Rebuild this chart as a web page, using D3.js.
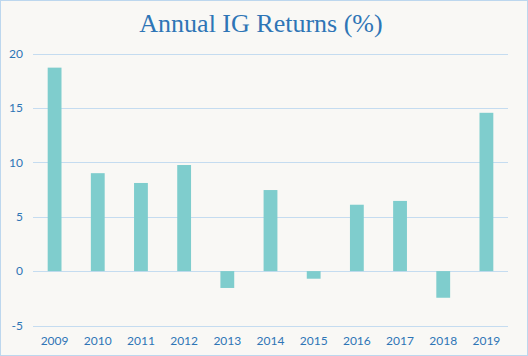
<!DOCTYPE html>
<html><head><meta charset="utf-8">
<script src="https://cdn.jsdelivr.net/npm/d3@7"></script>
<style>html,body{margin:0;padding:0;background:#fff;}</style>
</head><body>
<svg id="c" width="528" height="356"></svg>
<script>
const years = ["2009","2010","2011","2012","2013","2014","2015","2016","2017","2018","2019"];
const returns = [18.7, 9.0, 8.1, 9.75, -1.55, 7.45, -0.7, 6.1, 6.45, -2.45, 14.55];
const yTicks = [-5, 0, 5, 10, 15, 20];
const title = "Annual IG Returns (%)";

const svg = d3.select("#c");
const W = 528, H = 356;
svg.append("rect").attr("x",0.5).attr("y",0.5).attr("width",W-1).attr("height",H-1)
  .attr("fill","#f9f8f5").attr("stroke","#bdd7ee").attr("stroke-width",1);

const x = d3.scaleBand().domain(years).range([33, 508]).paddingInner(0.68).paddingOuter(0.34);
const y = d3.scaleLinear().domain([-5, 20]).range([325.5, 53.5]);

const blue = "#2e75b6";
const grid = svg.append("g");
grid.selectAll("line").data(yTicks).join("line")
  .attr("x1",33).attr("x2",508).attr("y1",d=>Math.round(y(d))+0.5).attr("y2",d=>Math.round(y(d))+0.5)
  .attr("stroke","#c5dcf0").attr("stroke-width",1);

svg.append("g").selectAll("text").data(yTicks).join("text")
  .attr("x",23).attr("y",d=>y(d)).attr("dy","0.35em").attr("text-anchor","end")
  .attr("fill",blue).attr("font-family","Lato, sans-serif").attr("font-size",12)
  .text(d=>d);

svg.append("g").selectAll("text").data(years).join("text")
  .attr("x",d=>x(d)+x.bandwidth()/2).attr("y",345).attr("text-anchor","middle")
  .attr("fill",blue).attr("font-family","Lato, sans-serif").attr("font-size",12)
  .text(d=>d);

svg.append("g").selectAll("rect").data(years).join("rect")
  .attr("x",d=>x(d)).attr("width",x.bandwidth())
  .attr("y",(d,i)=>y(Math.max(0,returns[i])))
  .attr("height",(d,i)=>Math.abs(y(returns[i])-y(0)))
  .attr("fill","#7fcdcd");

svg.append("text").attr("x",261).attr("y",32).attr("text-anchor","middle")
  .attr("fill",blue).attr("font-family","'Liberation Serif', serif").attr("font-size",26)
  .text(title);
</script>
</body></html>
